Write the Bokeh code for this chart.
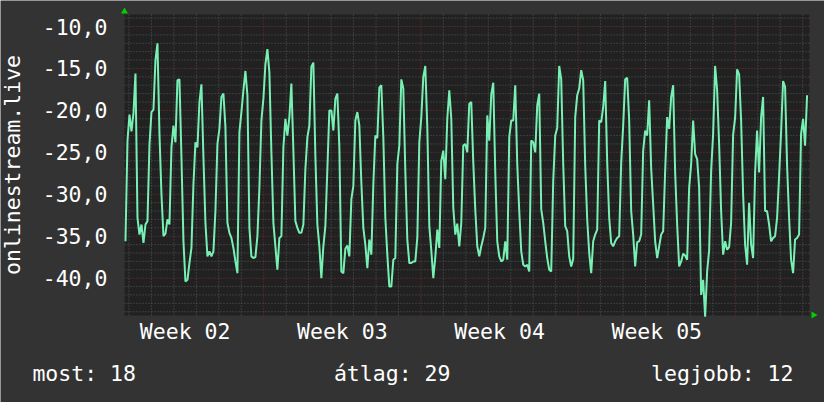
import math
from bokeh.plotting import figure
from bokeh.models import Range1d
from bokeh.core.properties import value
from bokeh.embed import file_html
from bokeh.resources import INLINE

# ---- data ----
# time axis in days from the left edge of the graph; one reading every STEP_DAYS
T0_DAYS = 0.045
STEP_DAYS = 0.089

vals_a = [-35.6, -23.6, -20.5, -22.5, -20.3, -15.6, -32.8, -34.8, -33.6, -35.8,
          -33.6, -33.2, -24.1, -20.2, -19.9, -14.0, -12.0, -22.8, -30.0, -35.0,
          -34.7, -33.0, -33.6, -24.4, -21.8, -23.8, -16.4, -16.3, -25.6, -35.6,
          -40.4, -40.2, -38.2, -36.4, -28.8, -23.8, -24.4, -19.0, -16.9, -25.6,
          -33.4, -37.4, -36.8, -37.4, -36.8, -32.0, -24.0, -22.2, -18.4, -18.0,
          -22.0, -33.4, -34.6, -35.2, -36.4, -38.0, -39.4, -22.6, -20.2, -17.6,
          -15.3, -18.2, -34.0, -37.4, -37.6, -37.5, -35.0, -29.2]
vals_b = [-21.2, -18.6, -14.5, -12.7, -15.5, -25.0, -33.4, -36.2, -39.0, -35.2,
          -35.0, -24.4, -21.0, -23.0, -20.8, -16.8, -24.8, -33.2, -34.0, -34.6,
          -34.6, -33.6, -27.0, -23.2, -21.8, -14.8, -14.3, -25.4, -33.6, -36.2,
          -40.0, -36.2, -33.8, -27.0, -20.0, -20.0, -22.4, -18.6, -18.0, -24.4,
          -39.2, -39.4, -36.5, -36.1, -37.4, -30.6, -29.0, -21.2, -20.2, -21.8,
          -28.6, -34.0, -36.0, -38.8, -35.4, -37.2, -28.8, -23.0, -23.3, -17.3,
          -17.0, -23.2, -32.8, -37.2, -41.0, -41.0, -37.8, -37.6, -26.4]
vals_c = [-24.2, -16.3, -17.4, -27.2, -35.4, -38.2, -38.2, -38.0, -38.0, -35.2,
          -23.8, -20.8, -16.0, -14.7, -22.0, -33.8, -36.7, -40.0, -37.5, -34.2,
          -36.4, -26.0, -24.8, -28.2, -21.0, -17.6, -21.0, -31.6, -34.8, -33.5,
          -36.2, -33.4, -24.2, -24.0, -25.0, -19.2, -19.0, -26.2, -31.8, -36.2,
          -37.4, -36.2, -35.2, -34.0, -20.6, -23.6, -18.1, -16.7, -27.4, -35.6,
          -37.4, -38.0, -37.8, -35.6, -37.8, -23.2, -21.2, -21.2, -17.0, -26.4,
          -32.0, -36.8, -38.4, -38.6, -38.4, -39.2, -23.6, -23.8, -25.0]
vals_d = [-19.4, -18.0, -31.8, -33.4, -35.6, -37.6, -39.0, -39.2, -28.4, -23.0,
          -22.1, -14.7, -16.3, -26.4, -33.8, -34.4, -37.4, -38.6, -37.7, -20.8,
          -18.2, -17.4, -15.2, -16.4, -26.6, -33.0, -37.0, -39.4, -35.6, -34.8,
          -34.2, -21.2, -21.4, -19.6, -16.5, -26.2, -32.8, -35.8, -36.2, -35.6,
          -35.2, -35.0, -26.2, -21.8, -16.3, -16.1, -21.2, -32.0, -34.8, -38.6,
          -35.7, -35.6, -34.8, -24.8, -22.4, -23.0, -18.8, -26.9, -31.2, -35.6,
          -37.6, -36.2, -34.8, -34.4, -27.2, -20.8, -22.2, -18.4, -17.0]
vals_e = [-27.4, -33.6, -38.6, -38.0, -37.1, -37.3, -37.8, -29.2, -26.4, -21.2,
          -25.2, -25.8, -29.2, -42.0, -40.2, -44.6, -39.2, -36.7, -27.2, -22.8,
          -14.7, -17.6, -24.0, -32.0, -37.2, -35.6, -36.6, -36.3, -33.4, -22.9,
          -20.9, -15.1, -15.7, -21.2, -30.0, -36.0, -38.4, -31.0, -36.0, -37.6,
          -27.4, -22.4, -27.4, -20.8, -18.4, -32.0, -32.0, -33.6, -35.6, -35.2,
          -35.0, -32.8, -27.8, -22.6, -16.5, -17.2, -26.6, -32.8, -37.8, -39.4,
          -35.4, -35.2, -34.8, -22.8, -21.0, -24.2, -18.2]

# graph window (days, value)
X_MIN, X_MAX = 0.0, 30.5
Y_MIN, Y_MAX = -44.45, -8.57

y_ticks = [-40, -35, -30, -25, -20, -15, -10]
y_tick_labels = ["-40,0", "-35,0", "-30,0", "-25,0", "-20,0", "-15,0", "-10,0"]
y_minor = [-44, -43, -42, -41, -39, -38, -37, -36, -34, -33, -32, -31, -29, -28,
           -27, -26, -24, -23, -22, -21, -19, -18, -17, -16, -14, -13, -12, -11, -9]

week_ticks = [2.7, 9.7, 16.7, 23.7]
week_labels = ["Week 02", "Week 03", "Week 04", "Week 05"]
week_bounds = [6.2, 13.2, 20.2, 27.2]
day_lines = [0.2, 1.2, 2.2, 3.2, 4.2, 5.2, 7.2, 8.2, 9.2, 10.2, 11.2, 12.2,
             14.2, 15.2, 16.2, 17.2, 18.2, 19.2, 21.2, 22.2, 23.2, 24.2, 25.2,
             26.2, 28.2, 29.2, 30.2]

y_title = "onlinestream.live"
stat_texts = ["most: 18", "átlag: 29", "legjobb: 12"]

values = vals_a + vals_b + vals_c + vals_d + vals_e
days = [T0_DAYS + STEP_DAYS * i for i in range(len(values))]

FONT = "DejaVu Sans Mono"
FS = "21.5px"
BG = "#333333"
PLOT_BG = "#212121"
GRID_MINOR = "#585858"
GRID_MAJOR = "#7a3434"
GREEN_ARROW = "#00d000"
LINE = "#78f0b4"

# whole canvas is the frame; ranges chosen so the graph window sits where
# rrdtool puts it
p = figure(width=824, height=402,
           x_range=Range1d(-5.52, 31.17), y_range=Range1d(-54.82, -6.90),
           output_backend="svg", toolbar_location=None,
           x_axis_location=None, y_axis_location=None,
           min_border=0, background_fill_color=BG, border_fill_color=BG,
           outline_line_color=None)
p.grid.visible = False

# graph background
p.quad(left=[X_MIN], right=[X_MAX], bottom=[Y_MIN], top=[Y_MAX],
       fill_color=PLOT_BG, line_color=None)

# grid
p.segment(x0=day_lines, x1=day_lines, y0=[Y_MIN] * len(day_lines),
          y1=[Y_MAX] * len(day_lines), line_color=GRID_MINOR,
          line_dash="1 2", line_width=1)
p.segment(x0=[X_MIN] * len(y_minor), x1=[X_MAX] * len(y_minor), y0=y_minor,
          y1=y_minor, line_color=GRID_MINOR, line_dash="1 2", line_width=1)
p.segment(x0=week_bounds, x1=week_bounds, y0=[Y_MIN] * len(week_bounds),
          y1=[Y_MAX] * len(week_bounds), line_color=GRID_MAJOR,
          line_dash="1 2", line_width=1)
p.segment(x0=[X_MIN] * len(y_ticks), x1=[X_MAX] * len(y_ticks), y0=y_ticks,
          y1=y_ticks, line_color=GRID_MAJOR, line_dash="1 2", line_width=1)

# series
p.line(days, values, line_color=LINE, line_width=2)

# axis arrows
p.scatter(x=[X_MIN], y=[Y_MAX + 0.36], marker="triangle", size=7,
          fill_color=GREEN_ARROW, line_color=None)
p.scatter(x=[X_MAX + 0.18], y=[Y_MIN + 0.06], marker="triangle", size=7,
          angle=-math.pi / 2, fill_color=GREEN_ARROW, line_color=None)

TXT = dict(text_font=value(FONT), text_font_size=FS, text_color="#ffffff",
           text_baseline="middle")

# y tick labels
p.text(x=[X_MIN - 0.76] * len(y_ticks), y=y_ticks, text=y_tick_labels,
       text_align="right", **TXT)

# x (week) labels
p.text(x=week_ticks, y=[Y_MIN - 1.90] * len(week_ticks), text=week_labels,
       text_align="center", **TXT)

# y axis title
p.text(x=[X_MIN - 4.99], y=[(Y_MIN + Y_MAX) / 2], text=[y_title],
       angle=math.pi / 2, text_align="center", **TXT)

# statistics row
p.text(x=[X_MIN - 4.10, X_MIN + 11.92, X_MIN + 29.79],
       y=[Y_MIN - 6.94] * 3, text=stat_texts,
       text_align=["left", "center", "right"], **TXT)

open("out.html", "w").write(file_html(p, INLINE))
